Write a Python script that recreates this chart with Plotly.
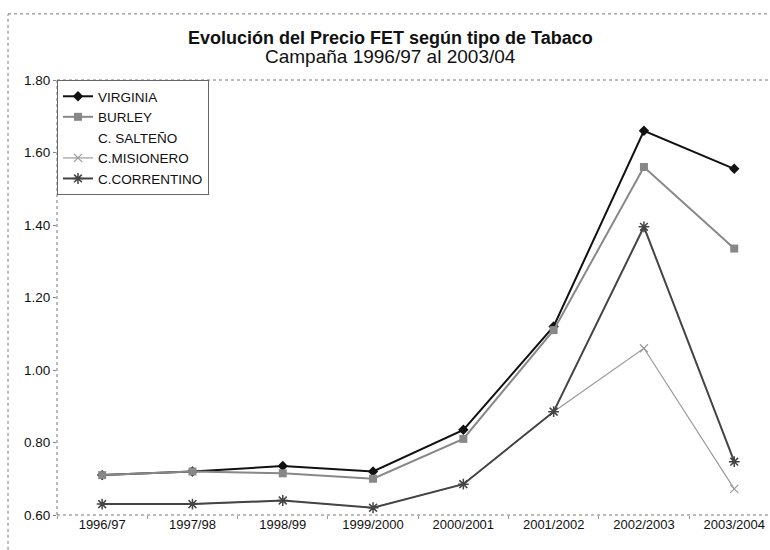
import plotly.graph_objects as go

categories = ["1996/97", "1997/98", "1998/99", "1999/2000", "2000/2001", "2001/2002", "2002/2003", "2003/2004"]
virginia = [0.71, 0.72, 0.735, 0.72, 0.835, 1.12, 1.66, 1.555]
burley = [0.71, 0.72, 0.715, 0.70, 0.81, 1.11, 1.56, 1.335]
salteno = [None] * 8
misionero = [0.63, 0.63, 0.64, 0.62, 0.685, 0.885, 1.06, 0.672]
correntino = [0.63, 0.63, 0.64, 0.62, 0.685, 0.885, 1.395, 0.747]
y_ticks = [0.60, 0.80, 1.00, 1.20, 1.40, 1.60, 1.80]
title_text = "Evolución del Precio FET según tipo de Tabaco"
subtitle_text = "Campaña 1996/97 al 2003/04"

fig = go.Figure()
fig.add_trace(go.Scatter(x=categories, y=virginia, name="VIRGINIA", mode="lines+markers",
                         line=dict(color="#111111", width=2),
                         marker=dict(symbol="diamond", size=8, color="#111111")))
fig.add_trace(go.Scatter(x=categories, y=burley, name="BURLEY", mode="lines+markers",
                         line=dict(color="#888888", width=2),
                         marker=dict(symbol="square", size=8, color="#888888")))
fig.add_trace(go.Scatter(x=categories, y=salteno, name="C. SALTEÑO", mode="lines",
                         line=dict(color="rgba(0,0,0,0)", width=0)))
fig.add_trace(go.Scatter(x=categories, y=misionero, name="C.MISIONERO", mode="lines+markers",
                         line=dict(color="#9a9a9a", width=1.2),
                         marker=dict(symbol="x-thin-open", size=8, line=dict(color="#9a9a9a", width=1.2))))
fig.add_trace(go.Scatter(x=categories, y=correntino, name="C.CORRENTINO", mode="lines+markers",
                         line=dict(color="#444444", width=2),
                         marker=dict(symbol="asterisk-open", size=9, line=dict(color="#444444", width=1.5))))

font = "Liberation Sans, Arial, sans-serif"
fig.update_layout(
    width=770, height=550,
    margin=dict(l=57, r=0, t=80, b=35, autoexpand=False),
    paper_bgcolor="white", plot_bgcolor="white",
    font=dict(family=font, color="#111111", size=13.5),
    showlegend=True,
    legend=dict(x=0.0, y=1.0, xanchor="left", yanchor="top",
                bgcolor="white", bordercolor="#666666", borderwidth=1,
                font=dict(family=font, size=13.5, color="#111111"),
                tracegroupgap=0, itemwidth=30),
    xaxis=dict(type="category", range=[-0.5, 7.396], showgrid=False, zeroline=False,
               showline=False, ticks="outside", tickson="boundaries", ticklen=3,
               tickcolor="#999999", automargin=False, tickfont=dict(size=13, family=font)),
    yaxis=dict(range=[0.60, 1.80], tickvals=y_ticks, tickformat=".2f", showgrid=False,
               zeroline=False, showline=False, ticks="outside", ticklen=3, automargin=False,
               tickcolor="#888888", tickfont=dict(size=13.5, family=font)),
    annotations=[
        dict(text="<b>" + title_text + "</b>", xref="paper", yref="paper", x=0.468, y=1.0966,
             xanchor="center", yanchor="middle", showarrow=False,
             font=dict(family=font, size=18, color="#111111")),
        dict(text=subtitle_text, xref="paper", yref="paper", x=0.468, y=1.0529,
             xanchor="center", yanchor="middle", showarrow=False,
             font=dict(family=font, size=19, color="#111111")),
    ],
)

dot = dict(color="#777777", width=1, dash="dot")
shapes = [
    dict(type="line", xref="paper", yref="paper", x0=0, x1=1, y0=1, y1=1, line=dot),
    dict(type="line", xref="paper", yref="paper", x0=0, x1=0, y0=0, y1=1, line=dot),
    dict(type="line", xref="paper", yref="paper", x0=0, x1=1, y0=0, y1=0, line=dot),
    dict(type="line", xref="paper", yref="paper", x0=-0.0687, x1=1, y0=1.152, y1=1.152, line=dot),
    dict(type="line", xref="paper", yref="paper", x0=-0.0687, x1=-0.0687, y0=-0.08, y1=1.152, line=dot),
]
fig.update_layout(shapes=shapes)

fig.write_html("out.html", config={"displayModeBar": False},
               post_script="document.body.style.margin='0';document.body.style.overflow='hidden';")
